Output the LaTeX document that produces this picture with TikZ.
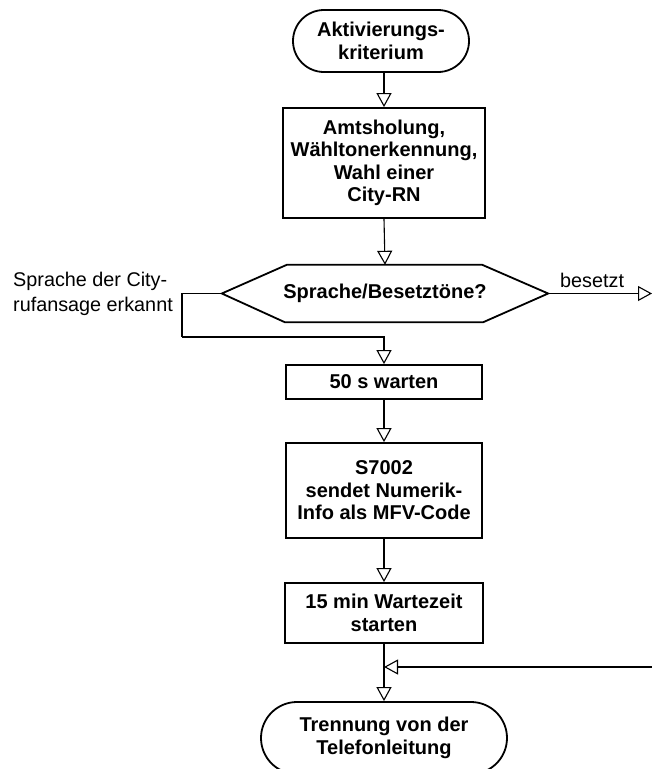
\documentclass[tikz,border=0pt]{standalone}
\usepackage{fontspec}
\setmainfont{Liberation Sans}
\usetikzlibrary{arrows.meta,shapes.misc}
\begin{document}
\begin{tikzpicture}[x=1pt,y=-1pt,
  boxtext/.style={font=\fontsize{20}{22.5}\selectfont\bfseries, align=center},
  procbox/.style={boxtext, draw, line width=1.8pt, rectangle, inner sep=0pt},
  termbox/.style={boxtext, draw, line width=1.8pt, rounded rectangle, inner sep=0pt},
  flow/.style={line width=1.1pt, -{Triangle[open, length=14pt, width=15pt, line width=1.1pt]}},
  plain/.style={line width=1.1pt},
  lbl/.style={font=\fontsize{19.8}{25}\selectfont, align=left, inner sep=0pt}
]
\clip (0,0) rectangle (652,769);
\fill[white] (0,0) rectangle (652,769);

% process steps
\node[termbox, minimum width=176pt, minimum height=62pt] (start) at (381,41) {Aktivierungs-\\kriterium};
\node[procbox, minimum width=202pt, minimum height=110pt] (dial) at (384,163) {Amtsholung,\\Wähltonerkennung,\\Wahl einer\\City-RN};
\node[boxtext, rectangle, inner sep=0pt, minimum width=326pt, minimum height=57pt] (ask) at (385,293.5) {Sprache/Besetztöne?};
\draw[line width=1.8pt, line join=miter]
  (ask.west) -- ([xshift=65pt]ask.north west) -- ([xshift=-66pt]ask.north east) -- (ask.east)
  -- ([xshift=-65pt]ask.south east) -- ([xshift=63pt]ask.south west) -- cycle;
\node[procbox, minimum width=196pt, minimum height=34pt] (wait) at (384,382) {50 s warten};
\node[procbox, minimum width=196pt, minimum height=95pt] (send) at (384,490.5) {S7002\\sendet Numerik-\\Info als MFV-Code};
\node[procbox, minimum width=198pt, minimum height=60pt] (timer) at (384,613) {15 min Wartezeit\\starten};
\node[termbox, minimum width=246pt, minimum height=72pt] (hangup) at (384,738) {Trennung von der\\Telefonleitung};

% free ends and bends
\coordinate (busy) at (652,293.5);
\coordinate (loop) at (182,337);
\coordinate (back) at (652,667);

% connectors
\draw[flow] (dial.north |- start.south) -- (dial.north);
\draw[flow] (dial.south) -- (ask.north);
\draw[flow] (ask.east) -- (busy);
\draw[plain] (ask.west) -| (loop);
\draw[flow] (loop) -| (wait.north);
\draw[flow] (wait.south) -- (send.north);
\draw[flow] (send.south) -- (timer.north);
\draw[flow] (timer.south) -- (hangup.north);
\draw[flow] (back) -- (timer.south |- back);

% labels
\node[lbl, anchor=base west] (lblbusy) at (560,287) {besetzt};
\node[lbl, anchor=west] (lblvoice) at (13,294) {Sprache der City-\\rufansage erkannt};
\end{tikzpicture}
\end{document}
